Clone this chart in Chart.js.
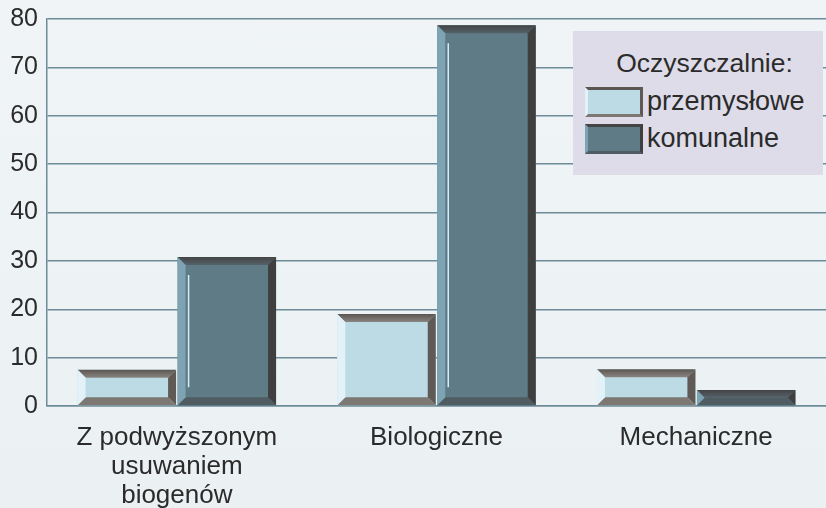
<!DOCTYPE html>
<html>
<head>
<meta charset="utf-8">
<script src="https://cdn.jsdelivr.net/npm/chart.js@4"></script>
<style>
  html, body { margin: 0; padding: 0; background: #eef3f5; overflow: hidden; }
  #wrap { position: relative; width: 826px; height: 508px; background: linear-gradient(#f0f4f6, #ebf1f3); }
  #legend { position: absolute; left: 573px; top: 31px; width: 250px; height: 144px; background: #dedce8;
    font-family: "Liberation Sans", Arial, sans-serif; font-size: 27px; color: #2b2b2b; }
  #legend .title { font-size: 26.5px; text-align: center; padding-left: 13px; height: 32px; line-height: 32px; margin-top: 16px; margin-bottom: 4px; }
  #legend .item { display: flex; align-items: center; margin-left: 12px; height: 37px; }
  #legend .sw { width: 58px; height: 30px; margin-right: 4px; box-sizing: border-box; }
</style>
</head>
<body>
<div id="wrap">
  <canvas id="barChart" width="826" height="508"></canvas>
  <div id="legend"></div>
</div>
<script>
var categories = [['Z podwyższonym', 'usuwaniem', 'biogenów'], 'Biologiczne', 'Mechaniczne'];
var przemyslowe = [7.5, 19, 7.6];
var komunalne = [30.8, 78.7, 3.3];
var legendTitle = 'Oczyszczalnie:';
var seriesNames = ['przemysłowe', 'komunalne'];

var bevels = [
  { top: ['#5b5651', '#8a8580'], right: '#5f5a56', bottom: '#7d7873', left: '#e2f2f8', line: null },
  { top: ['#444444', '#55626a'], right: '#3f3f3f', bottom: '#4f5d63', left: '#7ea4b4', line: '#d8eef6' }
];

var bevelPlugin = {
  id: 'bevel',
  afterDatasetsDraw: function(chart) {
    var ctx = chart.ctx;
    chart.data.datasets.forEach(function(ds, di) {
      var meta = chart.getDatasetMeta(di);
      var c = bevels[di];
      meta.data.forEach(function(bar) {
        var p = bar.getProps(['x', 'y', 'base', 'width'], true);
        var L = p.x - p.width / 2, R = p.x + p.width / 2, T = p.y, B = p.base;
        var b = Math.min(8, (B - T) / 2);
        ctx.save();
        var g = ctx.createLinearGradient(0, T, 0, T + b);
        g.addColorStop(0, c.top[0]);
        g.addColorStop(1, c.top[1]);
        poly(ctx, [[L, T], [R, T], [R - b, T + b], [L + b, T + b]], g);
        poly(ctx, [[R, T], [R, B], [R - b, B - b], [R - b, T + b]], c.right);
        poly(ctx, [[L, B], [R, B], [R - b, B - b], [L + b, B - b]], c.bottom);
        poly(ctx, [[L, T], [L + b, T + b], [L + b, B - b], [L, B]], c.left);
        if (c.line && B - T > 40) {
          ctx.strokeStyle = c.line;
          ctx.lineWidth = 1.5;
          ctx.beginPath();
          ctx.moveTo(L + 11, T + 18);
          ctx.lineTo(L + 11, B - 18);
          ctx.stroke();
        }
        ctx.restore();
      });
    });
  }
};

function poly(ctx, pts, fill) {
  ctx.beginPath();
  ctx.moveTo(pts[0][0], pts[0][1]);
  for (var i = 1; i < pts.length; i++) ctx.lineTo(pts[i][0], pts[i][1]);
  ctx.closePath();
  ctx.fillStyle = fill;
  ctx.fill();
}

function printBarChart(outputId) {
  var ctx = document.getElementById(outputId);
  var myChart = new Chart(ctx, {
    type: 'bar',
    data: {
      labels: categories,
      datasets: [{
        label: seriesNames[0],
        data: przemyslowe,
        backgroundColor: '#bddbe4',
        categoryPercentage: 0.77,
        barPercentage: 0.985
      }, {
        label: seriesNames[1],
        data: komunalne,
        backgroundColor: '#5e7b86',
        categoryPercentage: 0.77,
        barPercentage: 0.985
      }]
    },
    options: {
      responsive: false,
      animation: false,
      layout: { padding: { left: 10, top: 19, right: 0, bottom: 0 } },
      plugins: {
        legend: { display: false },
        tooltip: { enabled: false }
      },
      scales: {
        x: {
          grid: { display: false, drawTicks: false },
          border: { color: '#6d8c98', width: 1.5 },
          ticks: { color: '#2b2b2b', padding: 18, maxRotation: 0,
            font: { family: '"Liberation Sans", Arial, sans-serif', size: 26, lineHeight: 1.1 } },
          afterFit: function(scale) {
            scale.height = 102;
            scale.paddingLeft = 0;
            scale.paddingRight = 0;
          }
        },
        y: {
          min: 0, max: 80,
          grid: { color: '#6d8c98', lineWidth: 1.5, drawTicks: false },
          border: { color: '#6d8c98', width: 1.5 },
          ticks: { stepSize: 10, color: '#2b2b2b', padding: 9,
            font: { family: '"Liberation Sans", Arial, sans-serif', size: 25 } },
          afterFit: function(scale) {
            scale.width = 37;
            scale.paddingTop = 0;
            scale.paddingBottom = 0;
          }
        }
      }
    },
    plugins: [bevelPlugin]
  });
  return myChart;
}

function printLegend(chart) {
  var el = document.getElementById('legend');
  var html = '<div class="title">' + legendTitle + '</div>';
  chart.data.datasets.forEach(function(ds, i) {
    var c = bevels[i];
    html += '<div class="item"><div class="sw" style="background:' + ds.backgroundColor +
      ';border-top:3px solid ' + c.top[0] + ';border-right:3px solid ' + c.right +
      ';border-bottom:3px solid ' + c.bottom + ';border-left:3px solid ' + c.left + '"></div>' +
      ds.label + '</div>';
  });
  el.innerHTML = html;
}

function init() {
  var chart = printBarChart('barChart');
  printLegend(chart);
}

init();
</script>
</body>
</html>
